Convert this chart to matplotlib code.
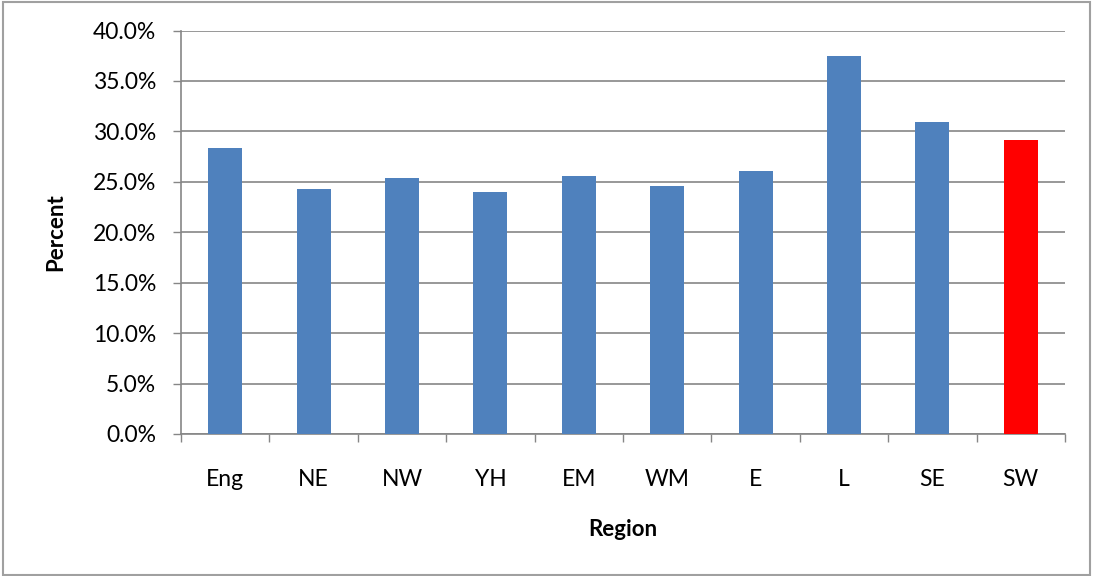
import matplotlib
matplotlib.use("Agg")
from matplotlib import pyplot as plt
from matplotlib.ticker import PercentFormatter, MultipleLocator
import numpy as np

regions = ['Eng', 'NE', 'NW', 'YH', 'EM', 'WM', 'E', 'L', 'SE', 'SW']
percent = [28.4, 24.3, 25.4, 24.0, 25.6, 24.6, 26.1, 37.5, 30.9, 29.1]
highlight = 'SW'

blue = '#4f81bd'
grey = '#868686'

plt.rcParams['font.family'] = ['Lato', 'DejaVu Sans']

fig = plt.figure(figsize=(10.93, 5.76), dpi=100)
ax = fig.add_axes([181/1093, 142/576, 884/1093, 403.5/576])

x = np.arange(len(regions))
colours = ['#ff0000' if r == highlight else blue for r in regions]
ax.bar(x, percent, width=0.385, color=colours, zorder=3)

ax.set_xlim(-0.5, len(regions) - 0.5)
ax.set_ylim(0, 40)
ax.yaxis.set_major_locator(MultipleLocator(5))
ax.yaxis.set_major_formatter(PercentFormatter(decimals=1))
ax.grid(axis='y', color=grey, linewidth=1.2, zorder=0)

ax.set_xticks(x)
ax.set_xticklabels(regions)
ax.set_xticks(np.arange(-0.5, len(regions)), minor=True)
ax.tick_params(axis='x', which='major', length=0, pad=25, labelsize=16.5)
ax.tick_params(axis='x', which='minor', length=6, color=grey, width=1)
ax.tick_params(axis='y', length=6, color=grey, width=1, labelsize=16.5, pad=12)

for s in ['top', 'right']:
    ax.spines[s].set_visible(False)
for s in ['left', 'bottom']:
    ax.spines[s].set_color(grey)
    ax.spines[s].set_linewidth(1.2)

ax.set_xlabel('Region', fontsize=16, fontweight='bold', labelpad=21)
ax.set_ylabel('Percent', fontsize=16, fontweight='bold', labelpad=19)

# outer frame
fig.patches.append(plt.Rectangle((3/1093, 1/576), 1087/1093, 573/576,
                                 transform=fig.transFigure, fill=False,
                                 edgecolor='#a0a0a0', linewidth=1.5))

fig.savefig('out.png', dpi=100)
